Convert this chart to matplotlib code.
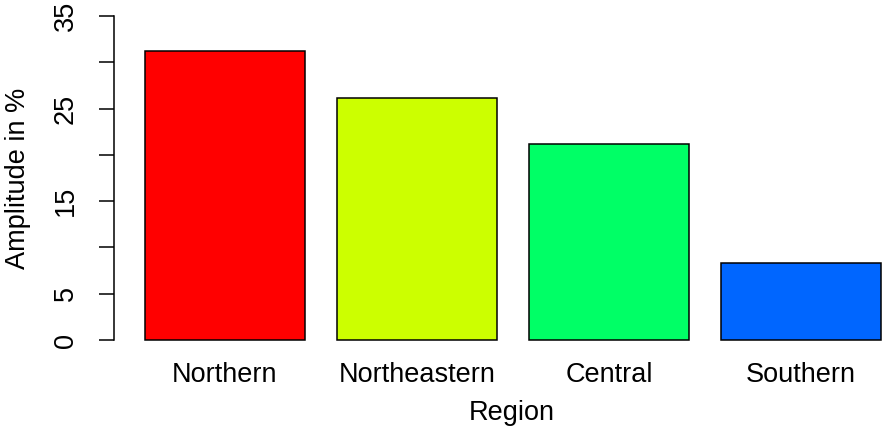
import matplotlib
matplotlib.use("Agg")
import matplotlib.pyplot as plt

regions = ["Northern", "Northeastern", "Central", "Southern"]
amplitude = [31.2, 26.1, 21.2, 8.3]
colors = ["#FF0000", "#CCFF00", "#00FF66", "#0066FF"]
yticks = [0, 5, 10, 15, 20, 25, 30, 35]
ytick_labels = ["0", "5", "", "15", "", "25", "", "35"]

plt.rcParams['font.family'] = ['Liberation Sans', 'DejaVu Sans']
W, H = 885, 432
fig = plt.figure(figsize=(W / 100, H / 100), dpi=100)
left_px, right_px = 113.5, 885
top_px, bot_px = 16, 340
ax = fig.add_axes([left_px / W, (H - bot_px) / H, (right_px - left_px) / W, (bot_px - top_px) / H])

centers = [0.7 + 1.2 * i for i in range(len(regions))]
ax.bar(centers, amplitude, width=1.0, color=colors, edgecolor="black", linewidth=1.1, clip_on=False)

ax.set_xlim(0.2 - (145 - left_px) / 160, 0.2 + (885 - 145) / 160)
ax.set_ylim(0, 35)

for s in ["top", "right", "bottom"]:
    ax.spines[s].set_visible(False)
ax.spines["left"].set_linewidth(1.1)

fs = 19.5
ax.set_yticks(yticks)
ax.set_yticklabels(ytick_labels, rotation=90, va="center", fontsize=fs)
ax.tick_params(axis="y", length=11, width=1.1, pad=14)
ax.set_xticks(centers)
ax.set_xticklabels(regions, fontsize=fs)
ax.tick_params(axis="x", length=0, pad=15.5)

fig.text(512 / W, 1 - 413 / H, "Region", ha="center", va="center", fontsize=fs)
fig.text(18 / W, 1 - 178 / H, "Amplitude in %", ha="center", va="center", rotation=90, fontsize=fs)

fig.savefig("out.png", dpi=100)
